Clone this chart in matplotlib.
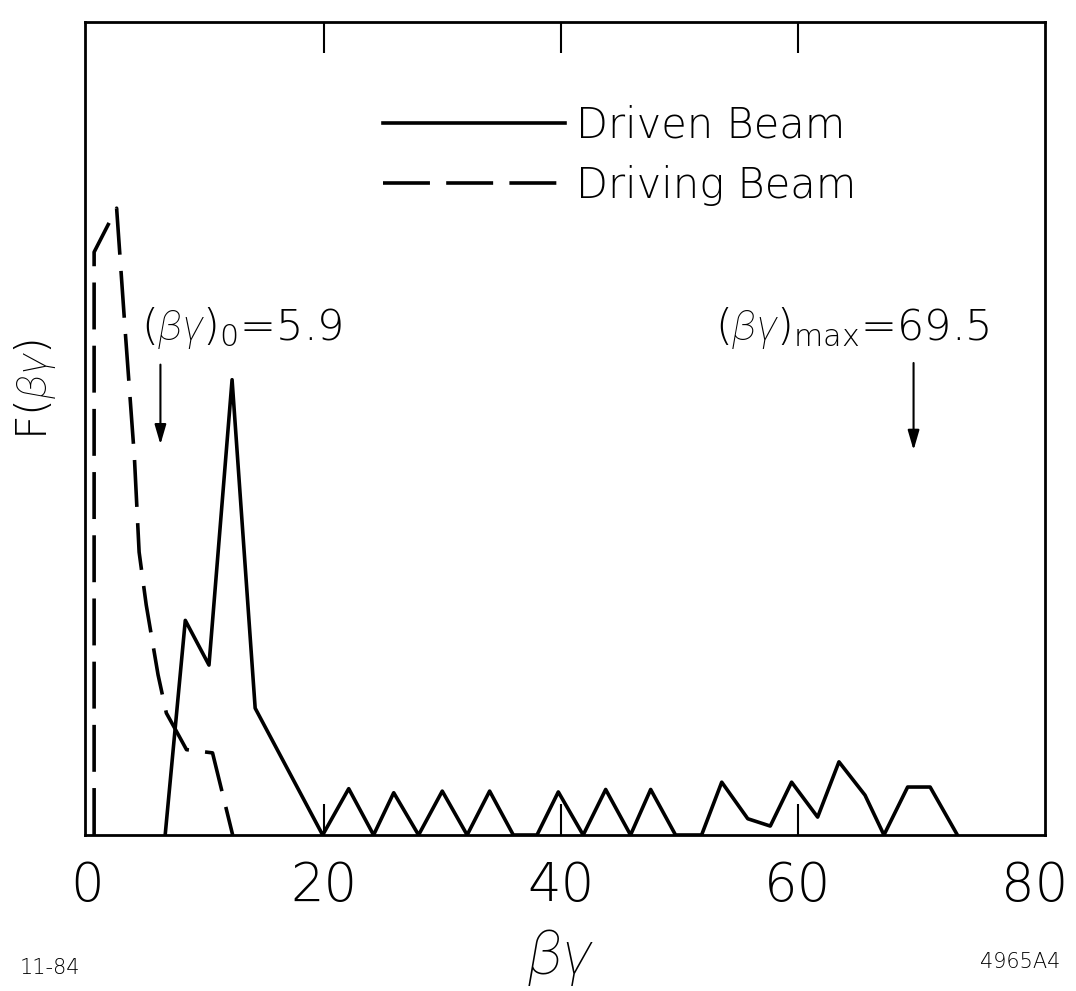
import matplotlib
matplotlib.use('Agg')
import matplotlib.pyplot as plt

# ---- data ----
driven_x = [6.6, 8.3, 10.3, 12.25, 14.2, 19.9, 22.1, 24.2, 25.9, 28.0, 30.0, 32.1,
            34.0, 36.0, 38.0, 39.8, 41.9, 43.8, 45.9, 47.6, 49.7, 51.9, 53.6, 55.8,
            57.7, 59.5, 61.7, 63.5, 65.7, 67.3, 69.3, 71.2, 73.5]
driven_F = [0, 26.4, 20.9, 56.0, 15.6, 0, 5.7, 0, 5.2, 0, 5.4, 0,
            5.4, 0, 0, 5.3, 0, 5.6, 0, 5.6, 0, 0, 6.5, 2.0,
            1.1, 6.5, 2.2, 9.0, 4.9, 0, 5.9, 5.9, 0]

driving_x = [0.6, 0.6, 2.5, 3.2, 4.0, 4.4, 5.0, 6.0, 6.7, 7.8, 8.4, 10.6, 12.3]
driving_F = [0, 71.7, 77.1, 62.5, 46.5, 34.8, 28.3, 19.7, 15.0, 12.1, 10.5, 10.1, 0]

xtick_values = [0, 20, 40, 60, 80]
xtick_labels = ['0', '20', '40', '60', '80']

bg0 = 6.2       # arrow position for (beta gamma)_0
bgmax = 69.8    # arrow position for (beta gamma)_max

plt.rcParams['font.family'] = ['DejaVu Sans']
plt.rcParams['font.weight'] = 'light'
plt.rcParams['mathtext.fontset'] = 'custom'
plt.rcParams['mathtext.rm'] = 'DejaVu Sans:light'
plt.rcParams['mathtext.it'] = 'Roboto:italic'
plt.rcParams['mathtext.bf'] = 'DejaVu Sans:bold'

W, H = 1076, 991
fig = plt.figure(figsize=(W / 100, H / 100), dpi=100)
ax = fig.add_axes([85 / W, (H - 835) / H, (1045 - 85) / W, (835 - 22) / H])

ax.plot(driven_x, driven_F, color='black', lw=2.6, label='Driven Beam')
ax.plot(driving_x, driving_F, color='black', lw=2.6, dashes=(13, 4.5),
        label='Driving Beam')

ax.set_xlim(-0.17, 80.9)
ax.set_ylim(0, 100)
ax.set_xticks(xtick_values)
ax.set_xticklabels(xtick_labels)
ax.tick_params(axis='x', direction='in', top=True, bottom=True, length=22,
               width=1.5, pad=18, labelsize=38)
for t in (ax.xaxis.get_major_ticks()[0], ax.xaxis.get_major_ticks()[-1]):
    t.tick1line.set_visible(False)
    t.tick2line.set_visible(False)
ax.set_yticks([])
for s in ax.spines.values():
    s.set_linewidth(2.0)

# annotations
ax.annotate('', xy=(bg0, 47.7), xytext=(bg0, 58.2),
            arrowprops=dict(arrowstyle='-|>,head_length=1.2,head_width=0.35',
                            color='black', lw=1.5))
ax.text(4.6, 59.5, r'$(\beta\gamma)_0$=5.9', fontsize=31, ha='left', va='bottom')
ax.annotate('', xy=(bgmax, 47.0), xytext=(bgmax, 58.4),
            arrowprops=dict(arrowstyle='-|>,head_length=1.2,head_width=0.35',
                            color='black', lw=1.5))
ax.text(53.0, 59.5, r'$(\beta\gamma)_{\mathrm{max}}$=69.5', fontsize=31,
        ha='left', va='bottom')

ax.legend(loc='upper left', bbox_to_anchor=(383 / W, 1 - 105 / H),
          bbox_transform=fig.transFigure, frameon=False,
          prop={'size': 30, 'weight': 'light'},
          handlelength=4.37, handletextpad=0.25, labelspacing=0.45,
          borderpad=0, borderaxespad=0)

fig.text(35 / W, 1 - 390 / H, r'F$(\beta\gamma)$', rotation=90, fontsize=31,
         ha='center', va='center')
fig.text(560 / W, 1 - 958 / H, r'$\beta\gamma$', fontsize=44, ha='center',
         va='center')
fig.text(50 / W, 1 - 968 / H, '11-84', fontsize=15, ha='center', va='center')
fig.text(1020 / W, 1 - 962 / H, '4965A4', fontsize=15, ha='center', va='center')

fig.savefig('out.png', dpi=100)
